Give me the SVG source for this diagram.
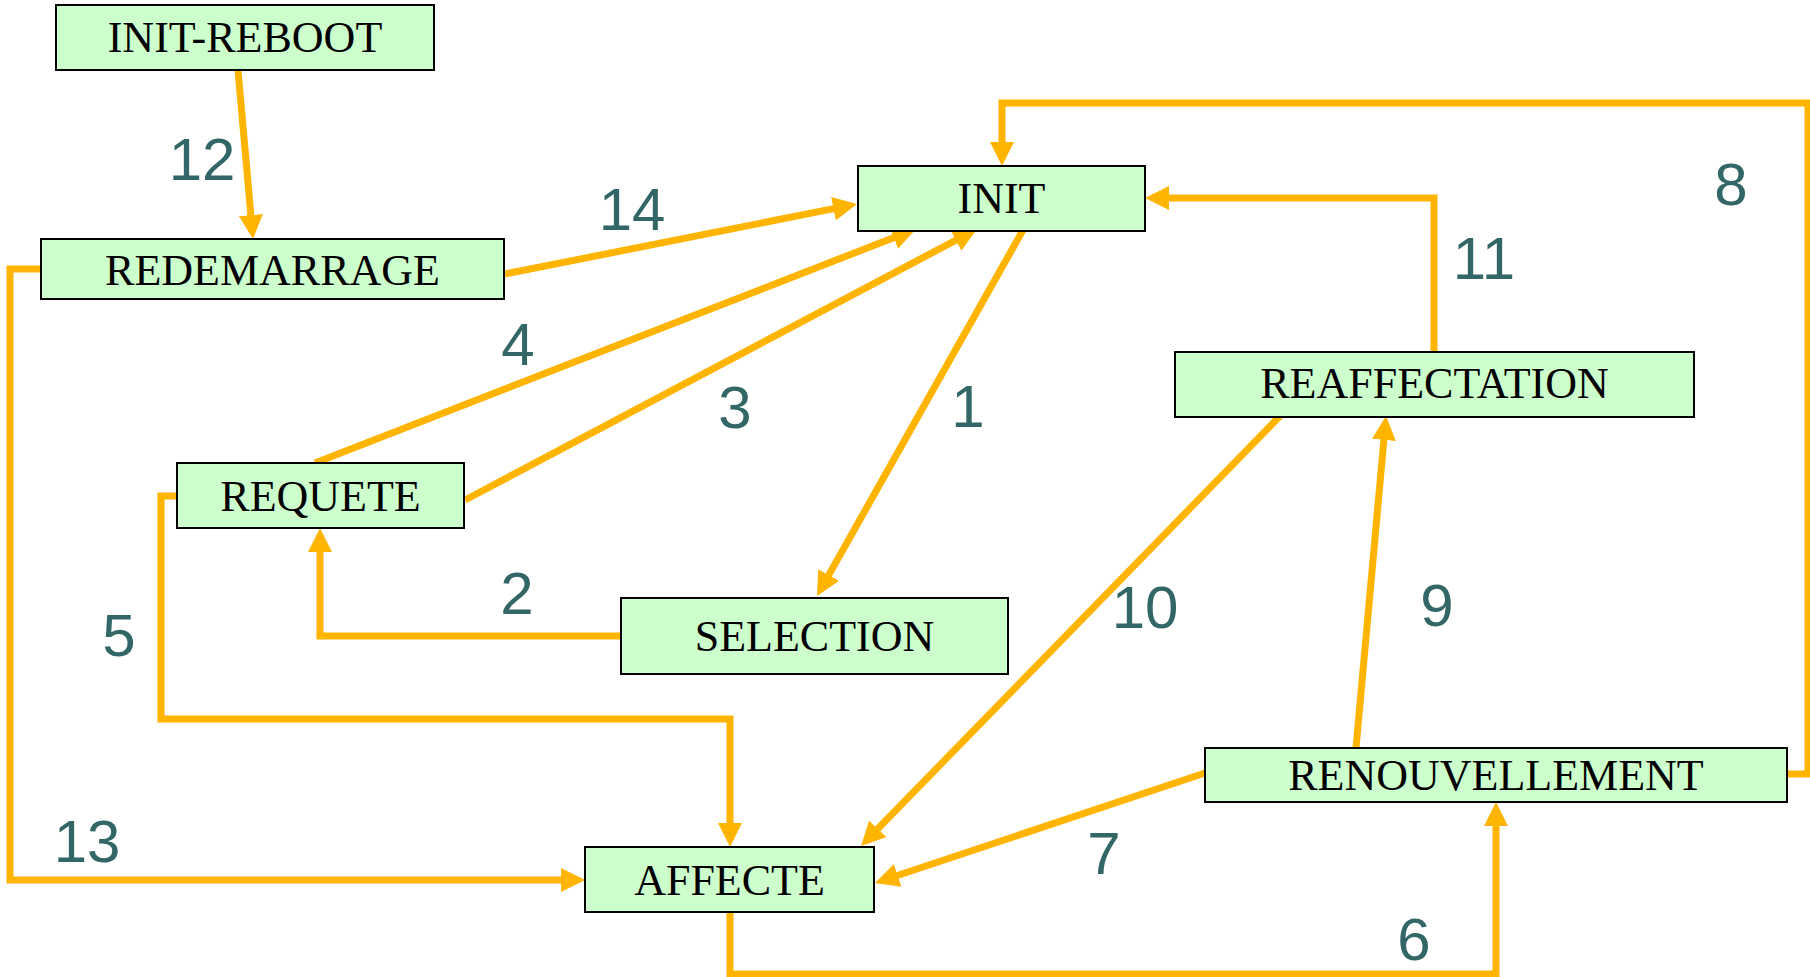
<svg xmlns="http://www.w3.org/2000/svg" width="1810" height="977" viewBox="0 0 1810 977">
<style>
.node rect{fill:#CCFFCC;stroke:#000;stroke-width:2}
.node text{font-family:"Liberation Serif","Times New Roman",serif;font-size:44px;fill:#000;text-anchor:middle}
.conn path{fill:none;stroke:#FFB400;stroke-width:7;stroke-linejoin:miter;stroke-linecap:butt}
.lbl{font-family:"Liberation Sans",Arial,sans-serif;font-size:60px;fill:#336666;text-anchor:middle}
</style>
<defs>
<marker id="ah" markerUnits="userSpaceOnUse" markerWidth="24" markerHeight="24" refX="17" refY="12" orient="auto" viewBox="0 0 24 24">
<path d="M0,0 L24,12 L0,24 z" fill="#FFB400"/>
</marker>
</defs>
<rect width="1810" height="977" fill="#fff"/>
<g id="connectors" class="conn">
<path d="M238,70 L252.4,232" marker-end="url(#ah)"/>
<path d="M505,274 L850.1,205.4" marker-end="url(#ah)"/>
<path d="M315,463 L909.5,231.5" marker-end="url(#ah)"/>
<path d="M465,500 L970.8,232.3" marker-end="url(#ah)"/>
<path d="M1023,230 L820.4,589.9" marker-end="url(#ah)"/>
<path d="M621,636 L320,636 L320,535" marker-end="url(#ah)"/>
<path d="M177,496 L161,496 L161,719 L730,719 L730,840" marker-end="url(#ah)"/>
<path d="M41,269 L10,269 L10,880 L578,880" marker-end="url(#ah)"/>
<path d="M1280,416 L865.9,841" marker-end="url(#ah)"/>
<path d="M1205,773 L881.6,880.8" marker-end="url(#ah)"/>
<path d="M730,912 L730,974 L1496,974 L1496,809" marker-end="url(#ah)"/>
<path d="M1356,748 L1385.4,423" marker-end="url(#ah)"/>
<path d="M1434,352 L1434,198 L1152,198" marker-end="url(#ah)"/>
<path d="M1787,774 L1808,774 L1808,103 L1002,103 L1002,159" marker-end="url(#ah)"/>
</g>
<g id="labels">
<text class="lbl" x="202" y="180">12</text>
<text class="lbl" x="632" y="230">14</text>
<text class="lbl" x="518" y="365">4</text>
<text class="lbl" x="735" y="428">3</text>
<text class="lbl" x="968" y="427">1</text>
<text class="lbl" x="1731" y="205">8</text>
<text class="lbl" x="1484" y="279">11</text>
<text class="lbl" x="517" y="614">2</text>
<text class="lbl" x="119" y="656">5</text>
<text class="lbl" x="1145" y="628">10</text>
<text class="lbl" x="1437" y="626">9</text>
<text class="lbl" x="87" y="862">13</text>
<text class="lbl" x="1104" y="874">7</text>
<text class="lbl" x="1414" y="960">6</text>
</g>
<g id="node-init-reboot" class="node"><rect x="56" y="5" width="378" height="65"/><text x="245" y="52">INIT-REBOOT</text></g>
<g id="node-redemarrage" class="node"><rect x="41" y="239" width="463" height="60"/><text x="272.5" y="285">REDEMARRAGE</text></g>
<g id="node-init" class="node"><rect x="858" y="166" width="287" height="65"/><text x="1001.5" y="213">INIT</text></g>
<g id="node-reaffectation" class="node"><rect x="1175" y="352" width="519" height="65"/><text x="1434.5" y="398">REAFFECTATION</text></g>
<g id="node-requete" class="node"><rect x="177" y="463" width="287" height="65"/><text x="320.5" y="511">REQUETE</text></g>
<g id="node-selection" class="node"><rect x="621" y="598" width="387" height="76"/><text x="814.5" y="651">SELECTION</text></g>
<g id="node-affecte" class="node"><rect x="585" y="847" width="289" height="65"/><text x="729.5" y="895">AFFECTE</text></g>
<g id="node-renouvellement" class="node"><rect x="1205" y="748" width="582" height="54"/><text x="1496" y="790">RENOUVELLEMENT</text></g>
</svg>
